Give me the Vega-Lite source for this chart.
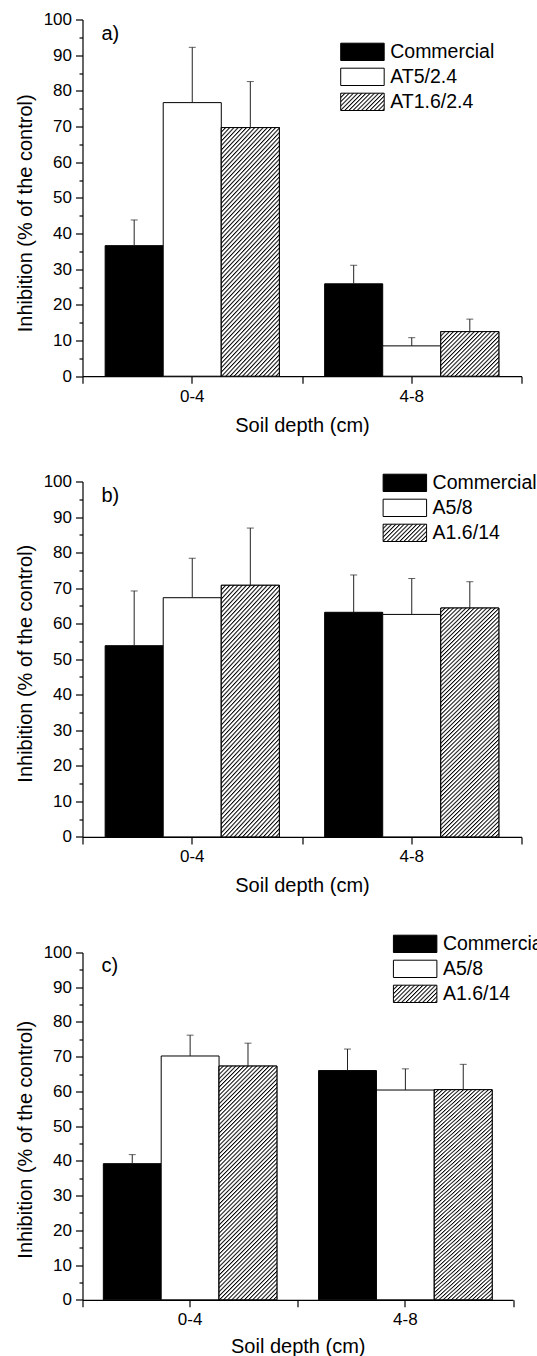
{
"$schema": "https://vega.github.io/schema/vega-lite/v6.json",
"padding": {"left": 14.5, "top": 10.5, "right": -10, "bottom": 0},
"spacing": 37,
"config": {
 "font": "Liberation Sans",
 "view": {"stroke": null},
 "axis": {"grid": false}
},
"vconcat": [
 {
  "width": 439, "height": 356.7,
  "data": {"values": [
   {"depth": "0-4", "series": "Commercial", "value": 36.6, "hi": 43.8},
   {"depth": "0-4", "series": "AT5/2.4", "value": 76.7, "hi": 92.2},
   {"depth": "0-4", "series": "AT1.6/2.4", "value": 69.7, "hi": 82.6},
   {"depth": "4-8", "series": "Commercial", "value": 25.9, "hi": 31.1},
   {"depth": "4-8", "series": "AT5/2.4", "value": 8.5, "hi": 10.8},
   {"depth": "4-8", "series": "AT1.6/2.4", "value": 12.5, "hi": 16.0}
  ]},
  "resolve": {"axis": {"x": "independent", "y": "independent"}},
  "layer": [
   {"mark": {"type": "bar", "stroke": "#000", "strokeWidth": 1},
    "encoding": {
     "x": {"field": "depth", "type": "nominal", "scale": {"paddingInner": 0, "paddingOuter": 0},
       "axis": {"orient": "bottom", "labelAngle": 0, "tickSize": 7, "tickColor": "#000", "tickWidth": 1.2, "domainColor": "#000", "domainWidth": 1.2, "labelFontSize": 17, "labelPadding": 5, "labelColor": "#000", "title": "Soil depth (cm)", "titleFontSize": 20, "titleFontWeight": "normal", "titleColor": "#000", "titlePadding": 11}},
     "xOffset": {"field": "series", "type": "nominal", "scale": {"domain": ["Commercial", "AT5/2.4", "AT1.6/2.4"], "paddingInner": 0, "paddingOuter": 0.39}},
     "y": {"field": "value", "type": "quantitative", "scale": {"domain": [0, 100], "nice": false},
       "axis": {"orient": "left", "values": [0,10,20,30,40,50,60,70,80,90,100], "tickSize": 7, "tickColor": "#000", "tickWidth": 1.2, "domainColor": "#000", "domainWidth": 1.2, "labelFontSize": 17, "labelPadding": 4, "labelColor": "#000", "title": "Inhibition (% of the control)", "titleFontSize": 20, "titleFontWeight": "normal", "titleColor": "#000", "titlePadding": 8, "titleY": 193.3}},
     "fill": {"field": "series", "type": "nominal",
       "scale": {"domain": ["Commercial", "AT5/2.4", "AT1.6/2.4"], "range": ["#000000", "#ffffff", {"expr": "{gradient:'linear',x1:0,y1:0,x2:8.339,y2:3.316,stops:[{offset:0,color:'#000'},{offset:0.004,color:'#fff'},{offset:0.0075,color:'#fff'},{offset:0.01,color:'#000'},{offset:0.014,color:'#fff'},{offset:0.0175,color:'#fff'},{offset:0.02,color:'#000'},{offset:0.024,color:'#fff'},{offset:0.0275,color:'#fff'},{offset:0.03,color:'#000'},{offset:0.034,color:'#fff'},{offset:0.0375,color:'#fff'},{offset:0.04,color:'#000'},{offset:0.044,color:'#fff'},{offset:0.0475,color:'#fff'},{offset:0.05,color:'#000'},{offset:0.054,color:'#fff'},{offset:0.0575,color:'#fff'},{offset:0.06,color:'#000'},{offset:0.064,color:'#fff'},{offset:0.0675,color:'#fff'},{offset:0.07,color:'#000'},{offset:0.074,color:'#fff'},{offset:0.0775,color:'#fff'},{offset:0.08,color:'#000'},{offset:0.084,color:'#fff'},{offset:0.0875,color:'#fff'},{offset:0.09,color:'#000'},{offset:0.094,color:'#fff'},{offset:0.0975,color:'#fff'},{offset:0.1,color:'#000'},{offset:0.104,color:'#fff'},{offset:0.1075,color:'#fff'},{offset:0.11,color:'#000'},{offset:0.114,color:'#fff'},{offset:0.1175,color:'#fff'},{offset:0.12,color:'#000'},{offset:0.124,color:'#fff'},{offset:0.1275,color:'#fff'},{offset:0.13,color:'#000'},{offset:0.134,color:'#fff'},{offset:0.1375,color:'#fff'},{offset:0.14,color:'#000'},{offset:0.144,color:'#fff'},{offset:0.1475,color:'#fff'},{offset:0.15,color:'#000'},{offset:0.154,color:'#fff'},{offset:0.1575,color:'#fff'}]}"}]},
       "legend": {"orient": "none", "legendX": 270.2, "legendY": 22.6, "title": null, "symbolType": "M-2.51,-1H2.51V1H-2.51Z", "symbolSize": 300, "symbolStrokeColor": "#000", "symbolStrokeWidth": 1, "labelFontSize": 19.5, "labelColor": "#000", "labelOffset": 18, "rowPadding": 3, "padding": 0, "labelLimit": 300}}
    }},
   {"transform": [{"filter": "datum.series === 'AT1.6/2.4' && datum.value > 30"}],
    "mark": {"type": "bar", "stroke": "#000", "strokeWidth": 1, "fill": {"gradient": "linear", "x1": 0, "y1": 0, "x2": 0.419, "y2": 1.683, "stops": [
{"offset":0,"color":"#000"},{"offset":0.004,"color":"#fff"},{"offset":0.0075,"color":"#fff"},
{"offset":0.01,"color":"#000"},{"offset":0.014,"color":"#fff"},{"offset":0.0175,"color":"#fff"},
{"offset":0.02,"color":"#000"},{"offset":0.024,"color":"#fff"},{"offset":0.0275,"color":"#fff"},
{"offset":0.03,"color":"#000"},{"offset":0.034,"color":"#fff"},{"offset":0.0375,"color":"#fff"},
{"offset":0.04,"color":"#000"},{"offset":0.044,"color":"#fff"},{"offset":0.0475,"color":"#fff"},
{"offset":0.05,"color":"#000"},{"offset":0.054,"color":"#fff"},{"offset":0.0575,"color":"#fff"},
{"offset":0.06,"color":"#000"},{"offset":0.064,"color":"#fff"},{"offset":0.0675,"color":"#fff"},
{"offset":0.07,"color":"#000"},{"offset":0.074,"color":"#fff"},{"offset":0.0775,"color":"#fff"},
{"offset":0.08,"color":"#000"},{"offset":0.084,"color":"#fff"},{"offset":0.0875,"color":"#fff"},
{"offset":0.09,"color":"#000"},{"offset":0.094,"color":"#fff"},{"offset":0.0975,"color":"#fff"},
{"offset":0.1,"color":"#000"},{"offset":0.104,"color":"#fff"},{"offset":0.1075,"color":"#fff"},
{"offset":0.11,"color":"#000"},{"offset":0.114,"color":"#fff"},{"offset":0.1175,"color":"#fff"},
{"offset":0.12,"color":"#000"},{"offset":0.124,"color":"#fff"},{"offset":0.1275,"color":"#fff"},
{"offset":0.13,"color":"#000"},{"offset":0.134,"color":"#fff"},{"offset":0.1375,"color":"#fff"},
{"offset":0.14,"color":"#000"},{"offset":0.144,"color":"#fff"},{"offset":0.1475,"color":"#fff"},
{"offset":0.15,"color":"#000"},{"offset":0.154,"color":"#fff"},{"offset":0.1575,"color":"#fff"},
{"offset":0.16,"color":"#000"},{"offset":0.164,"color":"#fff"},{"offset":0.1675,"color":"#fff"},
{"offset":0.17,"color":"#000"},{"offset":0.174,"color":"#fff"},{"offset":0.1775,"color":"#fff"},
{"offset":0.18,"color":"#000"},{"offset":0.184,"color":"#fff"},{"offset":0.1875,"color":"#fff"},
{"offset":0.19,"color":"#000"},{"offset":0.194,"color":"#fff"},{"offset":0.1975,"color":"#fff"},
{"offset":0.2,"color":"#000"},{"offset":0.204,"color":"#fff"},{"offset":0.2075,"color":"#fff"},
{"offset":0.21,"color":"#000"},{"offset":0.214,"color":"#fff"},{"offset":0.2175,"color":"#fff"},
{"offset":0.22,"color":"#000"},{"offset":0.224,"color":"#fff"},{"offset":0.2275,"color":"#fff"},
{"offset":0.23,"color":"#000"},{"offset":0.234,"color":"#fff"},{"offset":0.2375,"color":"#fff"},
{"offset":0.24,"color":"#000"},{"offset":0.244,"color":"#fff"},{"offset":0.2475,"color":"#fff"},
{"offset":0.25,"color":"#000"},{"offset":0.254,"color":"#fff"},{"offset":0.2575,"color":"#fff"},
{"offset":0.26,"color":"#000"},{"offset":0.264,"color":"#fff"},{"offset":0.2675,"color":"#fff"},
{"offset":0.27,"color":"#000"},{"offset":0.274,"color":"#fff"},{"offset":0.2775,"color":"#fff"},
{"offset":0.28,"color":"#000"},{"offset":0.284,"color":"#fff"},{"offset":0.2875,"color":"#fff"},
{"offset":0.29,"color":"#000"},{"offset":0.294,"color":"#fff"},{"offset":0.2975,"color":"#fff"},
{"offset":0.3,"color":"#000"},{"offset":0.304,"color":"#fff"},{"offset":0.3075,"color":"#fff"},
{"offset":0.31,"color":"#000"},{"offset":0.314,"color":"#fff"},{"offset":0.3175,"color":"#fff"},
{"offset":0.32,"color":"#000"},{"offset":0.324,"color":"#fff"},{"offset":0.3275,"color":"#fff"},
{"offset":0.33,"color":"#000"},{"offset":0.334,"color":"#fff"},{"offset":0.3375,"color":"#fff"},
{"offset":0.34,"color":"#000"},{"offset":0.344,"color":"#fff"},{"offset":0.3475,"color":"#fff"},
{"offset":0.35,"color":"#000"},{"offset":0.354,"color":"#fff"},{"offset":0.3575,"color":"#fff"},
{"offset":0.36,"color":"#000"},{"offset":0.364,"color":"#fff"},{"offset":0.3675,"color":"#fff"},
{"offset":0.37,"color":"#000"},{"offset":0.374,"color":"#fff"},{"offset":0.3775,"color":"#fff"},
{"offset":0.38,"color":"#000"},{"offset":0.384,"color":"#fff"},{"offset":0.3875,"color":"#fff"},
{"offset":0.39,"color":"#000"},{"offset":0.394,"color":"#fff"},{"offset":0.3975,"color":"#fff"},
{"offset":0.4,"color":"#000"},{"offset":0.404,"color":"#fff"},{"offset":0.4075,"color":"#fff"},
{"offset":0.41,"color":"#000"},{"offset":0.414,"color":"#fff"},{"offset":0.4175,"color":"#fff"},
{"offset":0.42,"color":"#000"},{"offset":0.424,"color":"#fff"},{"offset":0.4275,"color":"#fff"},
{"offset":0.43,"color":"#000"},{"offset":0.434,"color":"#fff"},{"offset":0.4375,"color":"#fff"},
{"offset":0.44,"color":"#000"},{"offset":0.444,"color":"#fff"},{"offset":0.4475,"color":"#fff"},
{"offset":0.45,"color":"#000"},{"offset":0.454,"color":"#fff"},{"offset":0.4575,"color":"#fff"},
{"offset":0.46,"color":"#000"},{"offset":0.464,"color":"#fff"},{"offset":0.4675,"color":"#fff"},
{"offset":0.47,"color":"#000"},{"offset":0.474,"color":"#fff"},{"offset":0.4775,"color":"#fff"},
{"offset":0.48,"color":"#000"},{"offset":0.484,"color":"#fff"},{"offset":0.4875,"color":"#fff"},
{"offset":0.49,"color":"#000"},{"offset":0.494,"color":"#fff"},{"offset":0.4975,"color":"#fff"},
{"offset":0.5,"color":"#000"},{"offset":0.504,"color":"#fff"},{"offset":0.5075,"color":"#fff"},
{"offset":0.51,"color":"#000"},{"offset":0.514,"color":"#fff"},{"offset":0.5175,"color":"#fff"},
{"offset":0.52,"color":"#000"},{"offset":0.524,"color":"#fff"},{"offset":0.5275,"color":"#fff"},
{"offset":0.53,"color":"#000"},{"offset":0.534,"color":"#fff"},{"offset":0.5375,"color":"#fff"},
{"offset":0.54,"color":"#000"},{"offset":0.544,"color":"#fff"},{"offset":0.5475,"color":"#fff"},
{"offset":0.55,"color":"#000"},{"offset":0.554,"color":"#fff"},{"offset":0.5575,"color":"#fff"},
{"offset":0.56,"color":"#000"},{"offset":0.564,"color":"#fff"},{"offset":0.5675,"color":"#fff"},
{"offset":0.57,"color":"#000"},{"offset":0.574,"color":"#fff"},{"offset":0.5775,"color":"#fff"},
{"offset":0.58,"color":"#000"},{"offset":0.584,"color":"#fff"},{"offset":0.5875,"color":"#fff"},
{"offset":0.59,"color":"#000"},{"offset":0.594,"color":"#fff"},{"offset":0.5975,"color":"#fff"},
{"offset":0.6,"color":"#000"},{"offset":0.604,"color":"#fff"},{"offset":0.6075,"color":"#fff"},
{"offset":0.61,"color":"#000"},{"offset":0.614,"color":"#fff"},{"offset":0.6175,"color":"#fff"},
{"offset":0.62,"color":"#000"},{"offset":0.624,"color":"#fff"},{"offset":0.6275,"color":"#fff"},
{"offset":0.63,"color":"#000"},{"offset":0.634,"color":"#fff"},{"offset":0.6375,"color":"#fff"},
{"offset":0.64,"color":"#000"},{"offset":0.644,"color":"#fff"},{"offset":0.6475,"color":"#fff"},
{"offset":0.65,"color":"#000"},{"offset":0.654,"color":"#fff"},{"offset":0.6575,"color":"#fff"},
{"offset":0.66,"color":"#000"},{"offset":0.664,"color":"#fff"},{"offset":0.6675,"color":"#fff"},
{"offset":0.67,"color":"#000"},{"offset":0.674,"color":"#fff"},{"offset":0.6775,"color":"#fff"},
{"offset":0.68,"color":"#000"},{"offset":0.684,"color":"#fff"},{"offset":0.6875,"color":"#fff"},
{"offset":0.69,"color":"#000"},{"offset":0.694,"color":"#fff"},{"offset":0.6975,"color":"#fff"},
{"offset":0.7,"color":"#000"},{"offset":0.704,"color":"#fff"},{"offset":0.7075,"color":"#fff"}
    ]}},
    "encoding": {
     "x": {"field": "depth", "type": "nominal", "axis": null},
     "xOffset": {"field": "series", "type": "nominal", "scale": {"domain": ["Commercial", "AT5/2.4", "AT1.6/2.4"]}},
     "y": {"field": "value", "type": "quantitative", "scale": {"domain": [0, 100]}, "axis": null}
    }},
   {"transform": [{"filter": "datum.series === 'AT1.6/2.4' && datum.value <= 30"}],
    "mark": {"type": "bar", "stroke": "#000", "strokeWidth": 1, "fill": {"gradient": "linear", "x1": 0, "y1": 0, "x2": 4.541, "y2": 3.462, "stops": [
{"offset":0,"color":"#000"},{"offset":0.004,"color":"#fff"},{"offset":0.0075,"color":"#fff"},
{"offset":0.01,"color":"#000"},{"offset":0.014,"color":"#fff"},{"offset":0.0175,"color":"#fff"},
{"offset":0.02,"color":"#000"},{"offset":0.024,"color":"#fff"},{"offset":0.0275,"color":"#fff"},
{"offset":0.03,"color":"#000"},{"offset":0.034,"color":"#fff"},{"offset":0.0375,"color":"#fff"},
{"offset":0.04,"color":"#000"},{"offset":0.044,"color":"#fff"},{"offset":0.0475,"color":"#fff"},
{"offset":0.05,"color":"#000"},{"offset":0.054,"color":"#fff"},{"offset":0.0575,"color":"#fff"},
{"offset":0.06,"color":"#000"},{"offset":0.064,"color":"#fff"},{"offset":0.0675,"color":"#fff"},
{"offset":0.07,"color":"#000"},{"offset":0.074,"color":"#fff"},{"offset":0.0775,"color":"#fff"},
{"offset":0.08,"color":"#000"},{"offset":0.084,"color":"#fff"},{"offset":0.0875,"color":"#fff"},
{"offset":0.09,"color":"#000"},{"offset":0.094,"color":"#fff"},{"offset":0.0975,"color":"#fff"},
{"offset":0.1,"color":"#000"},{"offset":0.104,"color":"#fff"},{"offset":0.1075,"color":"#fff"},
{"offset":0.11,"color":"#000"},{"offset":0.114,"color":"#fff"},{"offset":0.1175,"color":"#fff"},
{"offset":0.12,"color":"#000"},{"offset":0.124,"color":"#fff"},{"offset":0.1275,"color":"#fff"},
{"offset":0.13,"color":"#000"},{"offset":0.134,"color":"#fff"},{"offset":0.1375,"color":"#fff"},
{"offset":0.14,"color":"#000"},{"offset":0.144,"color":"#fff"},{"offset":0.1475,"color":"#fff"},
{"offset":0.15,"color":"#000"},{"offset":0.154,"color":"#fff"},{"offset":0.1575,"color":"#fff"},
{"offset":0.16,"color":"#000"},{"offset":0.164,"color":"#fff"},{"offset":0.1675,"color":"#fff"},
{"offset":0.17,"color":"#000"},{"offset":0.174,"color":"#fff"},{"offset":0.1775,"color":"#fff"},
{"offset":0.18,"color":"#000"},{"offset":0.184,"color":"#fff"},{"offset":0.1875,"color":"#fff"},
{"offset":0.19,"color":"#000"},{"offset":0.194,"color":"#fff"},{"offset":0.1975,"color":"#fff"},
{"offset":0.2,"color":"#000"},{"offset":0.204,"color":"#fff"},{"offset":0.2075,"color":"#fff"},
{"offset":0.21,"color":"#000"},{"offset":0.214,"color":"#fff"},{"offset":0.2175,"color":"#fff"},
{"offset":0.22,"color":"#000"},{"offset":0.224,"color":"#fff"},{"offset":0.2275,"color":"#fff"},
{"offset":0.23,"color":"#000"},{"offset":0.234,"color":"#fff"},{"offset":0.2375,"color":"#fff"},
{"offset":0.24,"color":"#000"},{"offset":0.244,"color":"#fff"},{"offset":0.2475,"color":"#fff"},
{"offset":0.25,"color":"#000"},{"offset":0.254,"color":"#fff"},{"offset":0.2575,"color":"#fff"}
    ]}},
    "encoding": {
     "x": {"field": "depth", "type": "nominal", "axis": null},
     "xOffset": {"field": "series", "type": "nominal", "scale": {"domain": ["Commercial", "AT5/2.4", "AT1.6/2.4"]}},
     "y": {"field": "value", "type": "quantitative", "scale": {"domain": [0, 100]}, "axis": null}
    }},
   {"mark": {"type": "rule", "color": "#222", "strokeWidth": 1},
    "encoding": {
     "x": {"field": "depth", "type": "nominal", "axis": null},
     "xOffset": {"field": "series", "type": "nominal", "scale": {"domain": ["Commercial", "AT5/2.4", "AT1.6/2.4"]}},
     "y": {"field": "value", "type": "quantitative", "scale": {"domain": [0, 100]}, "axis": null},
     "y2": {"field": "hi"}
    }},
   {"mark": {"type": "tick", "color": "#222", "thickness": 1, "size": 7, "orient": "horizontal"},
    "encoding": {
     "x": {"field": "depth", "type": "nominal", "axis": {"orient": "bottom", "tickBand": "extent", "labels": false, "domain": false, "tickSize": 7, "tickColor": "#000", "tickWidth": 1.2, "title": null}},
     "xOffset": {"field": "series", "type": "nominal", "scale": {"domain": ["Commercial", "AT5/2.4", "AT1.6/2.4"]}},
     "y": {"field": "hi", "type": "quantitative", "scale": {"domain": [0, 100]}, "axis": {"orient": "left", "values": [5,15,25,35,45,55,65,75,85,95], "labels": false, "domain": false, "tickSize": 3.5, "tickColor": "#000", "tickWidth": 1.2, "title": null}}
    }},
   {"data": {"values": [{"label": "a)"}]},
    "mark": {"type": "text", "align": "left", "baseline": "middle", "fontSize": 20, "dx": 19, "color": "#000"},
    "encoding": {
     "x": {"datum": "0-4", "type": "nominal", "bandPosition": 0, "axis": null},
     "y": {"datum": 96, "type": "quantitative", "scale": {"domain": [0, 100]}, "axis": null},
     "text": {"field": "label"}
    }}
  ]
 },
 {
  "width": 439, "height": 355.4,
  "data": {"values": [
   {"depth": "0-4", "series": "Commercial", "value": 53.8, "hi": 69.2},
   {"depth": "0-4", "series": "A5/8", "value": 67.3, "hi": 78.4},
   {"depth": "0-4", "series": "A1.6/14", "value": 70.8, "hi": 86.9},
   {"depth": "4-8", "series": "Commercial", "value": 63.2, "hi": 73.7},
   {"depth": "4-8", "series": "A5/8", "value": 62.6, "hi": 72.7},
   {"depth": "4-8", "series": "A1.6/14", "value": 64.4, "hi": 71.8}
  ]},
  "resolve": {"axis": {"x": "independent", "y": "independent"}},
  "layer": [
   {"mark": {"type": "bar", "stroke": "#000", "strokeWidth": 1},
    "encoding": {
     "x": {"field": "depth", "type": "nominal", "scale": {"paddingInner": 0, "paddingOuter": 0},
       "axis": {"orient": "bottom", "labelAngle": 0, "tickSize": 7, "tickColor": "#000", "tickWidth": 1.2, "domainColor": "#000", "domainWidth": 1.2, "labelFontSize": 17, "labelPadding": 5, "labelColor": "#000", "title": "Soil depth (cm)", "titleFontSize": 20, "titleFontWeight": "normal", "titleColor": "#000", "titlePadding": 11}},
     "xOffset": {"field": "series", "type": "nominal", "scale": {"domain": ["Commercial", "A5/8", "A1.6/14"], "paddingInner": 0, "paddingOuter": 0.39}},
     "y": {"field": "value", "type": "quantitative", "scale": {"domain": [0, 100], "nice": false},
       "axis": {"orient": "left", "values": [0,10,20,30,40,50,60,70,80,90,100], "tickSize": 7, "tickColor": "#000", "tickWidth": 1.2, "domainColor": "#000", "domainWidth": 1.2, "labelFontSize": 17, "labelPadding": 4, "labelColor": "#000", "title": "Inhibition (% of the control)", "titleFontSize": 20, "titleFontWeight": "normal", "titleColor": "#000", "titlePadding": 8, "titleY": 181.7}},
     "fill": {"field": "series", "type": "nominal",
       "scale": {"domain": ["Commercial", "A5/8", "A1.6/14"], "range": ["#000000", "#ffffff", {"expr": "{gradient:'linear',x1:0,y1:0,x2:8.339,y2:3.316,stops:[{offset:0,color:'#000'},{offset:0.004,color:'#fff'},{offset:0.0075,color:'#fff'},{offset:0.01,color:'#000'},{offset:0.014,color:'#fff'},{offset:0.0175,color:'#fff'},{offset:0.02,color:'#000'},{offset:0.024,color:'#fff'},{offset:0.0275,color:'#fff'},{offset:0.03,color:'#000'},{offset:0.034,color:'#fff'},{offset:0.0375,color:'#fff'},{offset:0.04,color:'#000'},{offset:0.044,color:'#fff'},{offset:0.0475,color:'#fff'},{offset:0.05,color:'#000'},{offset:0.054,color:'#fff'},{offset:0.0575,color:'#fff'},{offset:0.06,color:'#000'},{offset:0.064,color:'#fff'},{offset:0.0675,color:'#fff'},{offset:0.07,color:'#000'},{offset:0.074,color:'#fff'},{offset:0.0775,color:'#fff'},{offset:0.08,color:'#000'},{offset:0.084,color:'#fff'},{offset:0.0875,color:'#fff'},{offset:0.09,color:'#000'},{offset:0.094,color:'#fff'},{offset:0.0975,color:'#fff'},{offset:0.1,color:'#000'},{offset:0.104,color:'#fff'},{offset:0.1075,color:'#fff'},{offset:0.11,color:'#000'},{offset:0.114,color:'#fff'},{offset:0.1175,color:'#fff'},{offset:0.12,color:'#000'},{offset:0.124,color:'#fff'},{offset:0.1275,color:'#fff'},{offset:0.13,color:'#000'},{offset:0.134,color:'#fff'},{offset:0.1375,color:'#fff'},{offset:0.14,color:'#000'},{offset:0.144,color:'#fff'},{offset:0.1475,color:'#fff'},{offset:0.15,color:'#000'},{offset:0.154,color:'#fff'},{offset:0.1575,color:'#fff'}]}"}]},
       "legend": {"orient": "none", "legendX": 312.6, "legendY": -8.4, "title": null, "symbolType": "M-2.51,-1H2.51V1H-2.51Z", "symbolSize": 300, "symbolStrokeColor": "#000", "symbolStrokeWidth": 1, "labelFontSize": 19.5, "labelColor": "#000", "labelOffset": 18, "rowPadding": 3, "padding": 0, "labelLimit": 300}}
    }},
   {"transform": [{"filter": "datum.series === 'A1.6/14'"}],
    "mark": {"type": "bar", "stroke": "#000", "strokeWidth": 1, "fill": {"gradient": "linear", "x1": 0, "y1": 0, "x2": 0.419, "y2": 1.683, "stops": [
{"offset":0,"color":"#000"},{"offset":0.004,"color":"#fff"},{"offset":0.0075,"color":"#fff"},
{"offset":0.01,"color":"#000"},{"offset":0.014,"color":"#fff"},{"offset":0.0175,"color":"#fff"},
{"offset":0.02,"color":"#000"},{"offset":0.024,"color":"#fff"},{"offset":0.0275,"color":"#fff"},
{"offset":0.03,"color":"#000"},{"offset":0.034,"color":"#fff"},{"offset":0.0375,"color":"#fff"},
{"offset":0.04,"color":"#000"},{"offset":0.044,"color":"#fff"},{"offset":0.0475,"color":"#fff"},
{"offset":0.05,"color":"#000"},{"offset":0.054,"color":"#fff"},{"offset":0.0575,"color":"#fff"},
{"offset":0.06,"color":"#000"},{"offset":0.064,"color":"#fff"},{"offset":0.0675,"color":"#fff"},
{"offset":0.07,"color":"#000"},{"offset":0.074,"color":"#fff"},{"offset":0.0775,"color":"#fff"},
{"offset":0.08,"color":"#000"},{"offset":0.084,"color":"#fff"},{"offset":0.0875,"color":"#fff"},
{"offset":0.09,"color":"#000"},{"offset":0.094,"color":"#fff"},{"offset":0.0975,"color":"#fff"},
{"offset":0.1,"color":"#000"},{"offset":0.104,"color":"#fff"},{"offset":0.1075,"color":"#fff"},
{"offset":0.11,"color":"#000"},{"offset":0.114,"color":"#fff"},{"offset":0.1175,"color":"#fff"},
{"offset":0.12,"color":"#000"},{"offset":0.124,"color":"#fff"},{"offset":0.1275,"color":"#fff"},
{"offset":0.13,"color":"#000"},{"offset":0.134,"color":"#fff"},{"offset":0.1375,"color":"#fff"},
{"offset":0.14,"color":"#000"},{"offset":0.144,"color":"#fff"},{"offset":0.1475,"color":"#fff"},
{"offset":0.15,"color":"#000"},{"offset":0.154,"color":"#fff"},{"offset":0.1575,"color":"#fff"},
{"offset":0.16,"color":"#000"},{"offset":0.164,"color":"#fff"},{"offset":0.1675,"color":"#fff"},
{"offset":0.17,"color":"#000"},{"offset":0.174,"color":"#fff"},{"offset":0.1775,"color":"#fff"},
{"offset":0.18,"color":"#000"},{"offset":0.184,"color":"#fff"},{"offset":0.1875,"color":"#fff"},
{"offset":0.19,"color":"#000"},{"offset":0.194,"color":"#fff"},{"offset":0.1975,"color":"#fff"},
{"offset":0.2,"color":"#000"},{"offset":0.204,"color":"#fff"},{"offset":0.2075,"color":"#fff"},
{"offset":0.21,"color":"#000"},{"offset":0.214,"color":"#fff"},{"offset":0.2175,"color":"#fff"},
{"offset":0.22,"color":"#000"},{"offset":0.224,"color":"#fff"},{"offset":0.2275,"color":"#fff"},
{"offset":0.23,"color":"#000"},{"offset":0.234,"color":"#fff"},{"offset":0.2375,"color":"#fff"},
{"offset":0.24,"color":"#000"},{"offset":0.244,"color":"#fff"},{"offset":0.2475,"color":"#fff"},
{"offset":0.25,"color":"#000"},{"offset":0.254,"color":"#fff"},{"offset":0.2575,"color":"#fff"},
{"offset":0.26,"color":"#000"},{"offset":0.264,"color":"#fff"},{"offset":0.2675,"color":"#fff"},
{"offset":0.27,"color":"#000"},{"offset":0.274,"color":"#fff"},{"offset":0.2775,"color":"#fff"},
{"offset":0.28,"color":"#000"},{"offset":0.284,"color":"#fff"},{"offset":0.2875,"color":"#fff"},
{"offset":0.29,"color":"#000"},{"offset":0.294,"color":"#fff"},{"offset":0.2975,"color":"#fff"},
{"offset":0.3,"color":"#000"},{"offset":0.304,"color":"#fff"},{"offset":0.3075,"color":"#fff"},
{"offset":0.31,"color":"#000"},{"offset":0.314,"color":"#fff"},{"offset":0.3175,"color":"#fff"},
{"offset":0.32,"color":"#000"},{"offset":0.324,"color":"#fff"},{"offset":0.3275,"color":"#fff"},
{"offset":0.33,"color":"#000"},{"offset":0.334,"color":"#fff"},{"offset":0.3375,"color":"#fff"},
{"offset":0.34,"color":"#000"},{"offset":0.344,"color":"#fff"},{"offset":0.3475,"color":"#fff"},
{"offset":0.35,"color":"#000"},{"offset":0.354,"color":"#fff"},{"offset":0.3575,"color":"#fff"},
{"offset":0.36,"color":"#000"},{"offset":0.364,"color":"#fff"},{"offset":0.3675,"color":"#fff"},
{"offset":0.37,"color":"#000"},{"offset":0.374,"color":"#fff"},{"offset":0.3775,"color":"#fff"},
{"offset":0.38,"color":"#000"},{"offset":0.384,"color":"#fff"},{"offset":0.3875,"color":"#fff"},
{"offset":0.39,"color":"#000"},{"offset":0.394,"color":"#fff"},{"offset":0.3975,"color":"#fff"},
{"offset":0.4,"color":"#000"},{"offset":0.404,"color":"#fff"},{"offset":0.4075,"color":"#fff"},
{"offset":0.41,"color":"#000"},{"offset":0.414,"color":"#fff"},{"offset":0.4175,"color":"#fff"},
{"offset":0.42,"color":"#000"},{"offset":0.424,"color":"#fff"},{"offset":0.4275,"color":"#fff"},
{"offset":0.43,"color":"#000"},{"offset":0.434,"color":"#fff"},{"offset":0.4375,"color":"#fff"},
{"offset":0.44,"color":"#000"},{"offset":0.444,"color":"#fff"},{"offset":0.4475,"color":"#fff"},
{"offset":0.45,"color":"#000"},{"offset":0.454,"color":"#fff"},{"offset":0.4575,"color":"#fff"},
{"offset":0.46,"color":"#000"},{"offset":0.464,"color":"#fff"},{"offset":0.4675,"color":"#fff"},
{"offset":0.47,"color":"#000"},{"offset":0.474,"color":"#fff"},{"offset":0.4775,"color":"#fff"},
{"offset":0.48,"color":"#000"},{"offset":0.484,"color":"#fff"},{"offset":0.4875,"color":"#fff"},
{"offset":0.49,"color":"#000"},{"offset":0.494,"color":"#fff"},{"offset":0.4975,"color":"#fff"},
{"offset":0.5,"color":"#000"},{"offset":0.504,"color":"#fff"},{"offset":0.5075,"color":"#fff"},
{"offset":0.51,"color":"#000"},{"offset":0.514,"color":"#fff"},{"offset":0.5175,"color":"#fff"},
{"offset":0.52,"color":"#000"},{"offset":0.524,"color":"#fff"},{"offset":0.5275,"color":"#fff"},
{"offset":0.53,"color":"#000"},{"offset":0.534,"color":"#fff"},{"offset":0.5375,"color":"#fff"},
{"offset":0.54,"color":"#000"},{"offset":0.544,"color":"#fff"},{"offset":0.5475,"color":"#fff"},
{"offset":0.55,"color":"#000"},{"offset":0.554,"color":"#fff"},{"offset":0.5575,"color":"#fff"},
{"offset":0.56,"color":"#000"},{"offset":0.564,"color":"#fff"},{"offset":0.5675,"color":"#fff"},
{"offset":0.57,"color":"#000"},{"offset":0.574,"color":"#fff"},{"offset":0.5775,"color":"#fff"},
{"offset":0.58,"color":"#000"},{"offset":0.584,"color":"#fff"},{"offset":0.5875,"color":"#fff"},
{"offset":0.59,"color":"#000"},{"offset":0.594,"color":"#fff"},{"offset":0.5975,"color":"#fff"},
{"offset":0.6,"color":"#000"},{"offset":0.604,"color":"#fff"},{"offset":0.6075,"color":"#fff"},
{"offset":0.61,"color":"#000"},{"offset":0.614,"color":"#fff"},{"offset":0.6175,"color":"#fff"},
{"offset":0.62,"color":"#000"},{"offset":0.624,"color":"#fff"},{"offset":0.6275,"color":"#fff"},
{"offset":0.63,"color":"#000"},{"offset":0.634,"color":"#fff"},{"offset":0.6375,"color":"#fff"},
{"offset":0.64,"color":"#000"},{"offset":0.644,"color":"#fff"},{"offset":0.6475,"color":"#fff"},
{"offset":0.65,"color":"#000"},{"offset":0.654,"color":"#fff"},{"offset":0.6575,"color":"#fff"},
{"offset":0.66,"color":"#000"},{"offset":0.664,"color":"#fff"},{"offset":0.6675,"color":"#fff"},
{"offset":0.67,"color":"#000"},{"offset":0.674,"color":"#fff"},{"offset":0.6775,"color":"#fff"},
{"offset":0.68,"color":"#000"},{"offset":0.684,"color":"#fff"},{"offset":0.6875,"color":"#fff"},
{"offset":0.69,"color":"#000"},{"offset":0.694,"color":"#fff"},{"offset":0.6975,"color":"#fff"},
{"offset":0.7,"color":"#000"},{"offset":0.704,"color":"#fff"},{"offset":0.7075,"color":"#fff"}
    ]}},
    "encoding": {
     "x": {"field": "depth", "type": "nominal", "axis": null},
     "xOffset": {"field": "series", "type": "nominal", "scale": {"domain": ["Commercial", "A5/8", "A1.6/14"]}},
     "y": {"field": "value", "type": "quantitative", "scale": {"domain": [0, 100]}, "axis": null}
    }},
   {"mark": {"type": "rule", "color": "#222", "strokeWidth": 1},
    "encoding": {
     "x": {"field": "depth", "type": "nominal", "axis": null},
     "xOffset": {"field": "series", "type": "nominal", "scale": {"domain": ["Commercial", "A5/8", "A1.6/14"]}},
     "y": {"field": "value", "type": "quantitative", "scale": {"domain": [0, 100]}, "axis": null},
     "y2": {"field": "hi"}
    }},
   {"mark": {"type": "tick", "color": "#222", "thickness": 1, "size": 7, "orient": "horizontal"},
    "encoding": {
     "x": {"field": "depth", "type": "nominal", "axis": {"orient": "bottom", "tickBand": "extent", "labels": false, "domain": false, "tickSize": 7, "tickColor": "#000", "tickWidth": 1.2, "title": null}},
     "xOffset": {"field": "series", "type": "nominal", "scale": {"domain": ["Commercial", "A5/8", "A1.6/14"]}},
     "y": {"field": "hi", "type": "quantitative", "scale": {"domain": [0, 100]}, "axis": {"orient": "left", "values": [5,15,25,35,45,55,65,75,85,95], "labels": false, "domain": false, "tickSize": 3.5, "tickColor": "#000", "tickWidth": 1.2, "title": null}}
    }},
   {"data": {"values": [{"label": "b)"}]},
    "mark": {"type": "text", "align": "left", "baseline": "middle", "fontSize": 20, "dx": 19, "color": "#000"},
    "encoding": {
     "x": {"datum": "0-4", "type": "nominal", "bandPosition": 0, "axis": null},
     "y": {"datum": 96, "type": "quantitative", "scale": {"domain": [0, 100]}, "axis": null},
     "text": {"field": "label"}
    }}
  ]
 },
 {
  "width": 430.5, "height": 347.3,
  "data": {"values": [
   {"depth": "0-4", "series": "Commercial", "value": 39.2, "hi": 41.8},
   {"depth": "0-4", "series": "A5/8", "value": 70.2, "hi": 76.2},
   {"depth": "0-4", "series": "A1.6/14", "value": 67.3, "hi": 73.9},
   {"depth": "4-8", "series": "Commercial", "value": 66.0, "hi": 72.2},
   {"depth": "4-8", "series": "A5/8", "value": 60.4, "hi": 66.5},
   {"depth": "4-8", "series": "A1.6/14", "value": 60.5, "hi": 67.8}
  ]},
  "resolve": {"axis": {"x": "independent", "y": "independent"}},
  "layer": [
   {"mark": {"type": "bar", "stroke": "#000", "strokeWidth": 1},
    "encoding": {
     "x": {"field": "depth", "type": "nominal", "scale": {"paddingInner": 0, "paddingOuter": 0},
       "axis": {"orient": "bottom", "labelAngle": 0, "tickSize": 7, "tickColor": "#000", "tickWidth": 1.2, "domainColor": "#000", "domainWidth": 1.2, "labelFontSize": 17, "labelPadding": 5, "labelColor": "#000", "title": "Soil depth (cm)", "titleFontSize": 20, "titleFontWeight": "normal", "titleColor": "#000", "titlePadding": 9}},
     "xOffset": {"field": "series", "type": "nominal", "scale": {"domain": ["Commercial", "A5/8", "A1.6/14"], "paddingInner": 0, "paddingOuter": 0.36}},
     "y": {"field": "value", "type": "quantitative", "scale": {"domain": [0, 100], "nice": false},
       "axis": {"orient": "left", "values": [0,10,20,30,40,50,60,70,80,90,100], "tickSize": 7, "tickColor": "#000", "tickWidth": 1.2, "domainColor": "#000", "domainWidth": 1.2, "labelFontSize": 17, "labelPadding": 4, "labelColor": "#000", "title": "Inhibition (% of the control)", "titleFontSize": 20, "titleFontWeight": "normal", "titleColor": "#000", "titlePadding": 8, "titleY": 186.7}},
     "fill": {"field": "series", "type": "nominal",
       "scale": {"domain": ["Commercial", "A5/8", "A1.6/14"], "range": ["#000000", "#ffffff", {"expr": "{gradient:'linear',x1:0,y1:0,x2:8.339,y2:3.316,stops:[{offset:0,color:'#000'},{offset:0.004,color:'#fff'},{offset:0.0075,color:'#fff'},{offset:0.01,color:'#000'},{offset:0.014,color:'#fff'},{offset:0.0175,color:'#fff'},{offset:0.02,color:'#000'},{offset:0.024,color:'#fff'},{offset:0.0275,color:'#fff'},{offset:0.03,color:'#000'},{offset:0.034,color:'#fff'},{offset:0.0375,color:'#fff'},{offset:0.04,color:'#000'},{offset:0.044,color:'#fff'},{offset:0.0475,color:'#fff'},{offset:0.05,color:'#000'},{offset:0.054,color:'#fff'},{offset:0.0575,color:'#fff'},{offset:0.06,color:'#000'},{offset:0.064,color:'#fff'},{offset:0.0675,color:'#fff'},{offset:0.07,color:'#000'},{offset:0.074,color:'#fff'},{offset:0.0775,color:'#fff'},{offset:0.08,color:'#000'},{offset:0.084,color:'#fff'},{offset:0.0875,color:'#fff'},{offset:0.09,color:'#000'},{offset:0.094,color:'#fff'},{offset:0.0975,color:'#fff'},{offset:0.1,color:'#000'},{offset:0.104,color:'#fff'},{offset:0.1075,color:'#fff'},{offset:0.11,color:'#000'},{offset:0.114,color:'#fff'},{offset:0.1175,color:'#fff'},{offset:0.12,color:'#000'},{offset:0.124,color:'#fff'},{offset:0.1275,color:'#fff'},{offset:0.13,color:'#000'},{offset:0.134,color:'#fff'},{offset:0.1375,color:'#fff'},{offset:0.14,color:'#000'},{offset:0.144,color:'#fff'},{offset:0.1475,color:'#fff'},{offset:0.15,color:'#000'},{offset:0.154,color:'#fff'},{offset:0.1575,color:'#fff'}]}"}]},
       "legend": {"orient": "none", "legendX": 322.9, "legendY": -18.4, "title": null, "symbolType": "M-2.51,-1H2.51V1H-2.51Z", "symbolSize": 300, "symbolStrokeColor": "#000", "symbolStrokeWidth": 1, "labelFontSize": 19.5, "labelColor": "#000", "labelOffset": 18, "rowPadding": 3, "padding": 0, "labelLimit": 300}}
    }},
   {"transform": [{"filter": "datum.series === 'A1.6/14'"}],
    "mark": {"type": "bar", "stroke": "#000", "strokeWidth": 1, "fill": {"gradient": "linear", "x1": 0, "y1": 0, "x2": 0.419, "y2": 1.683, "stops": [
{"offset":0,"color":"#000"},{"offset":0.004,"color":"#fff"},{"offset":0.0075,"color":"#fff"},
{"offset":0.01,"color":"#000"},{"offset":0.014,"color":"#fff"},{"offset":0.0175,"color":"#fff"},
{"offset":0.02,"color":"#000"},{"offset":0.024,"color":"#fff"},{"offset":0.0275,"color":"#fff"},
{"offset":0.03,"color":"#000"},{"offset":0.034,"color":"#fff"},{"offset":0.0375,"color":"#fff"},
{"offset":0.04,"color":"#000"},{"offset":0.044,"color":"#fff"},{"offset":0.0475,"color":"#fff"},
{"offset":0.05,"color":"#000"},{"offset":0.054,"color":"#fff"},{"offset":0.0575,"color":"#fff"},
{"offset":0.06,"color":"#000"},{"offset":0.064,"color":"#fff"},{"offset":0.0675,"color":"#fff"},
{"offset":0.07,"color":"#000"},{"offset":0.074,"color":"#fff"},{"offset":0.0775,"color":"#fff"},
{"offset":0.08,"color":"#000"},{"offset":0.084,"color":"#fff"},{"offset":0.0875,"color":"#fff"},
{"offset":0.09,"color":"#000"},{"offset":0.094,"color":"#fff"},{"offset":0.0975,"color":"#fff"},
{"offset":0.1,"color":"#000"},{"offset":0.104,"color":"#fff"},{"offset":0.1075,"color":"#fff"},
{"offset":0.11,"color":"#000"},{"offset":0.114,"color":"#fff"},{"offset":0.1175,"color":"#fff"},
{"offset":0.12,"color":"#000"},{"offset":0.124,"color":"#fff"},{"offset":0.1275,"color":"#fff"},
{"offset":0.13,"color":"#000"},{"offset":0.134,"color":"#fff"},{"offset":0.1375,"color":"#fff"},
{"offset":0.14,"color":"#000"},{"offset":0.144,"color":"#fff"},{"offset":0.1475,"color":"#fff"},
{"offset":0.15,"color":"#000"},{"offset":0.154,"color":"#fff"},{"offset":0.1575,"color":"#fff"},
{"offset":0.16,"color":"#000"},{"offset":0.164,"color":"#fff"},{"offset":0.1675,"color":"#fff"},
{"offset":0.17,"color":"#000"},{"offset":0.174,"color":"#fff"},{"offset":0.1775,"color":"#fff"},
{"offset":0.18,"color":"#000"},{"offset":0.184,"color":"#fff"},{"offset":0.1875,"color":"#fff"},
{"offset":0.19,"color":"#000"},{"offset":0.194,"color":"#fff"},{"offset":0.1975,"color":"#fff"},
{"offset":0.2,"color":"#000"},{"offset":0.204,"color":"#fff"},{"offset":0.2075,"color":"#fff"},
{"offset":0.21,"color":"#000"},{"offset":0.214,"color":"#fff"},{"offset":0.2175,"color":"#fff"},
{"offset":0.22,"color":"#000"},{"offset":0.224,"color":"#fff"},{"offset":0.2275,"color":"#fff"},
{"offset":0.23,"color":"#000"},{"offset":0.234,"color":"#fff"},{"offset":0.2375,"color":"#fff"},
{"offset":0.24,"color":"#000"},{"offset":0.244,"color":"#fff"},{"offset":0.2475,"color":"#fff"},
{"offset":0.25,"color":"#000"},{"offset":0.254,"color":"#fff"},{"offset":0.2575,"color":"#fff"},
{"offset":0.26,"color":"#000"},{"offset":0.264,"color":"#fff"},{"offset":0.2675,"color":"#fff"},
{"offset":0.27,"color":"#000"},{"offset":0.274,"color":"#fff"},{"offset":0.2775,"color":"#fff"},
{"offset":0.28,"color":"#000"},{"offset":0.284,"color":"#fff"},{"offset":0.2875,"color":"#fff"},
{"offset":0.29,"color":"#000"},{"offset":0.294,"color":"#fff"},{"offset":0.2975,"color":"#fff"},
{"offset":0.3,"color":"#000"},{"offset":0.304,"color":"#fff"},{"offset":0.3075,"color":"#fff"},
{"offset":0.31,"color":"#000"},{"offset":0.314,"color":"#fff"},{"offset":0.3175,"color":"#fff"},
{"offset":0.32,"color":"#000"},{"offset":0.324,"color":"#fff"},{"offset":0.3275,"color":"#fff"},
{"offset":0.33,"color":"#000"},{"offset":0.334,"color":"#fff"},{"offset":0.3375,"color":"#fff"},
{"offset":0.34,"color":"#000"},{"offset":0.344,"color":"#fff"},{"offset":0.3475,"color":"#fff"},
{"offset":0.35,"color":"#000"},{"offset":0.354,"color":"#fff"},{"offset":0.3575,"color":"#fff"},
{"offset":0.36,"color":"#000"},{"offset":0.364,"color":"#fff"},{"offset":0.3675,"color":"#fff"},
{"offset":0.37,"color":"#000"},{"offset":0.374,"color":"#fff"},{"offset":0.3775,"color":"#fff"},
{"offset":0.38,"color":"#000"},{"offset":0.384,"color":"#fff"},{"offset":0.3875,"color":"#fff"},
{"offset":0.39,"color":"#000"},{"offset":0.394,"color":"#fff"},{"offset":0.3975,"color":"#fff"},
{"offset":0.4,"color":"#000"},{"offset":0.404,"color":"#fff"},{"offset":0.4075,"color":"#fff"},
{"offset":0.41,"color":"#000"},{"offset":0.414,"color":"#fff"},{"offset":0.4175,"color":"#fff"},
{"offset":0.42,"color":"#000"},{"offset":0.424,"color":"#fff"},{"offset":0.4275,"color":"#fff"},
{"offset":0.43,"color":"#000"},{"offset":0.434,"color":"#fff"},{"offset":0.4375,"color":"#fff"},
{"offset":0.44,"color":"#000"},{"offset":0.444,"color":"#fff"},{"offset":0.4475,"color":"#fff"},
{"offset":0.45,"color":"#000"},{"offset":0.454,"color":"#fff"},{"offset":0.4575,"color":"#fff"},
{"offset":0.46,"color":"#000"},{"offset":0.464,"color":"#fff"},{"offset":0.4675,"color":"#fff"},
{"offset":0.47,"color":"#000"},{"offset":0.474,"color":"#fff"},{"offset":0.4775,"color":"#fff"},
{"offset":0.48,"color":"#000"},{"offset":0.484,"color":"#fff"},{"offset":0.4875,"color":"#fff"},
{"offset":0.49,"color":"#000"},{"offset":0.494,"color":"#fff"},{"offset":0.4975,"color":"#fff"},
{"offset":0.5,"color":"#000"},{"offset":0.504,"color":"#fff"},{"offset":0.5075,"color":"#fff"},
{"offset":0.51,"color":"#000"},{"offset":0.514,"color":"#fff"},{"offset":0.5175,"color":"#fff"},
{"offset":0.52,"color":"#000"},{"offset":0.524,"color":"#fff"},{"offset":0.5275,"color":"#fff"},
{"offset":0.53,"color":"#000"},{"offset":0.534,"color":"#fff"},{"offset":0.5375,"color":"#fff"},
{"offset":0.54,"color":"#000"},{"offset":0.544,"color":"#fff"},{"offset":0.5475,"color":"#fff"},
{"offset":0.55,"color":"#000"},{"offset":0.554,"color":"#fff"},{"offset":0.5575,"color":"#fff"},
{"offset":0.56,"color":"#000"},{"offset":0.564,"color":"#fff"},{"offset":0.5675,"color":"#fff"},
{"offset":0.57,"color":"#000"},{"offset":0.574,"color":"#fff"},{"offset":0.5775,"color":"#fff"},
{"offset":0.58,"color":"#000"},{"offset":0.584,"color":"#fff"},{"offset":0.5875,"color":"#fff"},
{"offset":0.59,"color":"#000"},{"offset":0.594,"color":"#fff"},{"offset":0.5975,"color":"#fff"},
{"offset":0.6,"color":"#000"},{"offset":0.604,"color":"#fff"},{"offset":0.6075,"color":"#fff"},
{"offset":0.61,"color":"#000"},{"offset":0.614,"color":"#fff"},{"offset":0.6175,"color":"#fff"},
{"offset":0.62,"color":"#000"},{"offset":0.624,"color":"#fff"},{"offset":0.6275,"color":"#fff"},
{"offset":0.63,"color":"#000"},{"offset":0.634,"color":"#fff"},{"offset":0.6375,"color":"#fff"},
{"offset":0.64,"color":"#000"},{"offset":0.644,"color":"#fff"},{"offset":0.6475,"color":"#fff"},
{"offset":0.65,"color":"#000"},{"offset":0.654,"color":"#fff"},{"offset":0.6575,"color":"#fff"},
{"offset":0.66,"color":"#000"},{"offset":0.664,"color":"#fff"},{"offset":0.6675,"color":"#fff"},
{"offset":0.67,"color":"#000"},{"offset":0.674,"color":"#fff"},{"offset":0.6775,"color":"#fff"},
{"offset":0.68,"color":"#000"},{"offset":0.684,"color":"#fff"},{"offset":0.6875,"color":"#fff"},
{"offset":0.69,"color":"#000"},{"offset":0.694,"color":"#fff"},{"offset":0.6975,"color":"#fff"},
{"offset":0.7,"color":"#000"},{"offset":0.704,"color":"#fff"},{"offset":0.7075,"color":"#fff"}
    ]}},
    "encoding": {
     "x": {"field": "depth", "type": "nominal", "axis": null},
     "xOffset": {"field": "series", "type": "nominal", "scale": {"domain": ["Commercial", "A5/8", "A1.6/14"]}},
     "y": {"field": "value", "type": "quantitative", "scale": {"domain": [0, 100]}, "axis": null}
    }},
   {"mark": {"type": "rule", "color": "#222", "strokeWidth": 1},
    "encoding": {
     "x": {"field": "depth", "type": "nominal", "axis": null},
     "xOffset": {"field": "series", "type": "nominal", "scale": {"domain": ["Commercial", "A5/8", "A1.6/14"]}},
     "y": {"field": "value", "type": "quantitative", "scale": {"domain": [0, 100]}, "axis": null},
     "y2": {"field": "hi"}
    }},
   {"mark": {"type": "tick", "color": "#222", "thickness": 1, "size": 7, "orient": "horizontal"},
    "encoding": {
     "x": {"field": "depth", "type": "nominal", "axis": {"orient": "bottom", "tickBand": "extent", "labels": false, "domain": false, "tickSize": 7, "tickColor": "#000", "tickWidth": 1.2, "title": null}},
     "xOffset": {"field": "series", "type": "nominal", "scale": {"domain": ["Commercial", "A5/8", "A1.6/14"]}},
     "y": {"field": "hi", "type": "quantitative", "scale": {"domain": [0, 100]}, "axis": {"orient": "left", "values": [5,15,25,35,45,55,65,75,85,95], "labels": false, "domain": false, "tickSize": 3.5, "tickColor": "#000", "tickWidth": 1.2, "title": null}}
    }},
   {"data": {"values": [{"label": "c)"}]},
    "mark": {"type": "text", "align": "left", "baseline": "middle", "fontSize": 20, "dx": 19, "color": "#000"},
    "encoding": {
     "x": {"datum": "0-4", "type": "nominal", "bandPosition": 0, "axis": null},
     "y": {"datum": 96, "type": "quantitative", "scale": {"domain": [0, 100]}, "axis": null},
     "text": {"field": "label"}
    }}
  ]
 }
],
"resolve": {"scale": {"fill": "independent", "xOffset": "independent"}, "legend": {"fill": "independent"}}
}
